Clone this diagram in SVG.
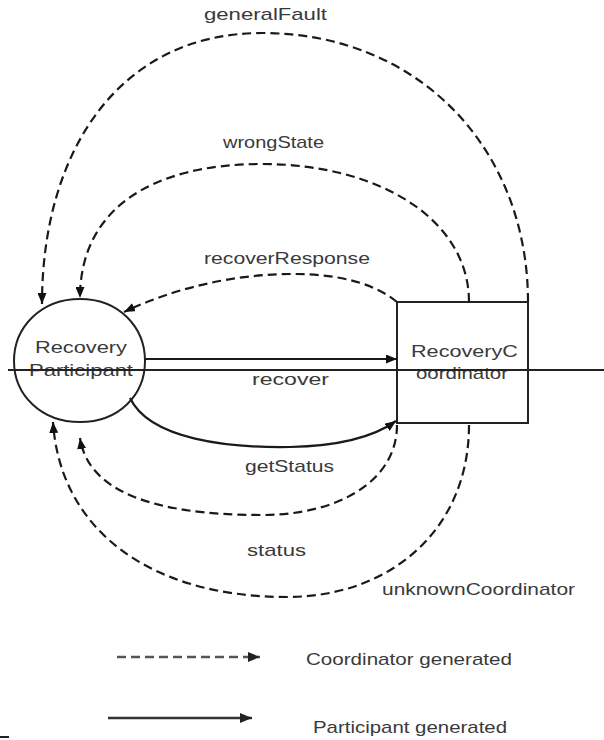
<svg xmlns="http://www.w3.org/2000/svg" width="604" height="740" viewBox="0 0 604 740">
  <defs>
    <style>
      .lbl { font-family: "Liberation Sans", Arial, sans-serif; font-size: 17px; fill: #3a3a3a; }
      .node { fill: #ffffff; stroke: #222222; stroke-width: 2; }
      .msg { fill: none; stroke: #1a1a1a; stroke-width: 2.2; }
      .coord { stroke-dasharray: 9 5; }
      .legend-dash { fill: none; stroke: #555555; stroke-width: 2.5; stroke-dasharray: 9 5; }
      .legend-solid { fill: none; stroke: #333333; stroke-width: 2.5; }
    </style>
    <marker id="head" viewBox="0 0 11 9" refX="11" refY="4.5" markerWidth="11" markerHeight="9" markerUnits="userSpaceOnUse" orient="auto">
      <path d="M0,0 L11,4.5 L0,9 z" fill="#111111"/>
    </marker>
    <marker id="head-lg" viewBox="0 0 12 10" refX="12" refY="5" markerWidth="12" markerHeight="10" markerUnits="userSpaceOnUse" orient="auto">
      <path d="M0,0 L12,5 L0,10 z" fill="#222222"/>
    </marker>
  </defs>

  <rect width="604" height="740" fill="#ffffff"/>

  <!-- participant node -->
  <g id="recovery-participant">
    <path class="node" d="M80,299 C119,299 145,327 145,361 C145,395 119,422 80,422 C41,422 14,395 14,361 C14,327 41,299 80,299 Z"/>
    <text class="lbl" x="35" y="353" textLength="92" lengthAdjust="spacingAndGlyphs">Recovery</text>
    <text class="lbl" x="29" y="376" textLength="104" lengthAdjust="spacingAndGlyphs">Participant</text>
  </g>

  <!-- coordinator node -->
  <g id="recovery-coordinator">
    <rect class="node" x="397" y="302" width="131" height="121"/>
    <text class="lbl" x="411" y="357" textLength="107" lengthAdjust="spacingAndGlyphs">RecoveryC</text>
    <text class="lbl" x="416" y="379" textLength="92" lengthAdjust="spacingAndGlyphs">oordinator</text>
  </g>

  <!-- messages between the two nodes -->
  <g id="connectors">
    <!-- coordinator generated -->
    <path class="msg coord" marker-end="url(#head)" d="M528,302 C528,150 420,33 262,33 C120,33 42,150 42,304"/>
    <path class="msg coord" marker-end="url(#head)" d="M469,302 C469,220 380,164 262,164 C150,164 80,210 80,298"/>
    <path class="msg coord" marker-end="url(#head)" d="M397,302 C370,280 330,274 293,274 C230,274 170,290 124,312"/>
    <path class="msg coord" marker-end="url(#head)" d="M397,425 C397,480 340,515 262,515 C150,515 88,490 80,438"/>
    <path class="msg coord" marker-end="url(#head)" d="M469,425 C469,530 390,597 287,597 C150,597 60,530 53,422"/>
    <!-- participant generated -->
    <path class="msg" marker-end="url(#head)" d="M145,359 L397,359"/>
    <path class="msg" marker-end="url(#head)" d="M130,398 C150,440 230,448 290,447 C340,446 375,436 396,421"/>

    <text class="lbl" x="204" y="20" textLength="123" lengthAdjust="spacingAndGlyphs">generalFault</text>
    <text class="lbl" x="223" y="148" textLength="101" lengthAdjust="spacingAndGlyphs">wrongState</text>
    <text class="lbl" x="204" y="264" textLength="166" lengthAdjust="spacingAndGlyphs">recoverResponse</text>
    <text class="lbl" x="252" y="385" textLength="77" lengthAdjust="spacingAndGlyphs">recover</text>
    <text class="lbl" x="245" y="472" textLength="89" lengthAdjust="spacingAndGlyphs">getStatus</text>
    <text class="lbl" x="247" y="556" textLength="59" lengthAdjust="spacingAndGlyphs">status</text>
    <text class="lbl" x="382" y="595" textLength="193" lengthAdjust="spacingAndGlyphs">unknownCoordinator</text>
  </g>

  <!-- horizontal rule across the diagram -->
  <line x1="8" y1="370" x2="604" y2="370" stroke="#222222" stroke-width="2"/>

  <!-- legend -->
  <g id="legend">
    <path class="legend-dash" marker-end="url(#head-lg)" d="M117,657 L260,657"/>
    <text class="lbl" x="306" y="665" textLength="206" lengthAdjust="spacingAndGlyphs">Coordinator generated</text>
    <path class="legend-solid" marker-end="url(#head-lg)" d="M108,718 L252,718"/>
    <text class="lbl" x="313" y="733" textLength="194" lengthAdjust="spacingAndGlyphs">Participant generated</text>
  </g>

  <rect x="0" y="736" width="9" height="2" fill="#222222"/>
</svg>
